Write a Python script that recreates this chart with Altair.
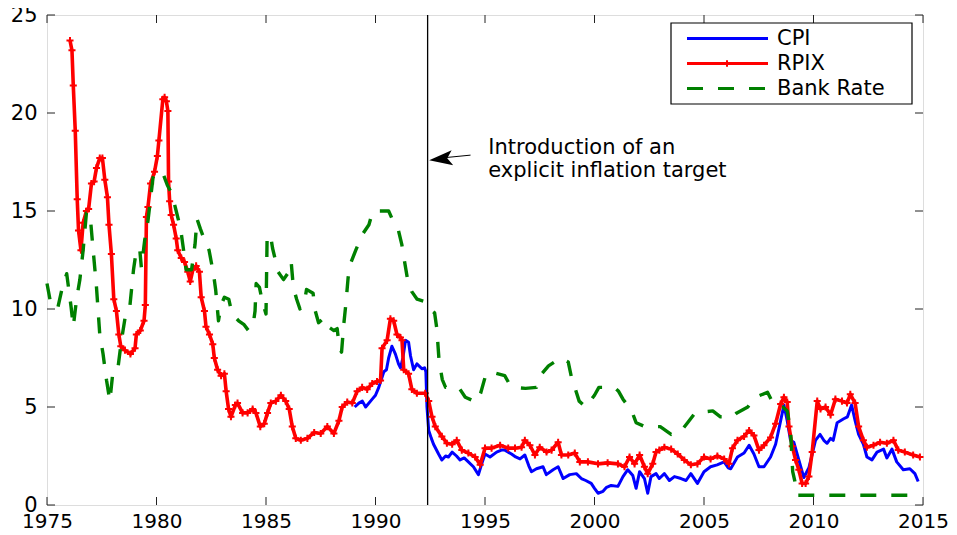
import altair as alt
import pandas as pd

# ---------------- data ----------------
rpix_year = [1976.05, 1976.14, 1976.2, 1976.29, 1976.38, 1976.44, 1976.55, 1976.65, 1976.8, 1976.9,
             1977.03, 1977.15, 1977.26, 1977.41, 1977.53, 1977.64, 1977.76, 1977.83, 1977.94, 1978.05,
             1978.17, 1978.28, 1978.37, 1978.56, 1978.81, 1979.02, 1979.08, 1979.26, 1979.43, 1979.49,
             1979.54, 1979.61, 1979.73, 1979.91, 1980.04, 1980.11, 1980.29, 1980.37, 1980.45, 1980.52,
             1980.55, 1980.6, 1980.67, 1980.78, 1980.9, 1980.97, 1981.13, 1981.28, 1981.43, 1981.54,
             1981.66, 1981.81, 1981.96, 1982.04, 1982.19, 1982.26, 1982.42, 1982.57, 1982.64, 1982.79,
             1982.95, 1983.1, 1983.18, 1983.29, 1983.4, 1983.6, 1983.7, 1983.93, 1984.16, 1984.39,
             1984.54, 1984.74, 1984.92, 1985.07, 1985.22, 1985.45, 1985.68, 1985.9, 1986.06, 1986.2,
             1986.36, 1986.59, 1986.89, 1987.2, 1987.5, 1987.8, 1988.1, 1988.33, 1988.48, 1988.71,
             1988.94, 1989.16, 1989.39, 1989.62, 1989.85, 1990.07, 1990.23, 1990.3, 1990.53, 1990.68,
             1990.83, 1990.98, 1991.14, 1991.21, 1991.29, 1991.51, 1991.66, 1991.89, 1992.27, 1992.43,
             1992.58, 1992.73, 1993.03, 1993.26, 1993.5, 1993.71, 1993.94, 1994.24, 1994.55, 1994.78,
             1995.0, 1995.3, 1995.69, 1996.06, 1996.37, 1996.67, 1996.82, 1997.05, 1997.28, 1997.5,
             1997.81, 1998.04, 1998.34, 1998.49, 1998.8, 1999.1, 1999.33, 1999.7, 2000.16, 2000.6,
             2001.07, 2001.37, 2001.6, 2001.83, 2002.06, 2002.28, 2002.43, 2002.66, 2002.81, 2002.96,
             2003.19, 2003.5, 2003.8, 2004.1, 2004.4, 2004.7, 2005.0, 2005.3, 2005.61, 2005.92,
             2006.14, 2006.3, 2006.53, 2006.83, 2007.06, 2007.28, 2007.51, 2007.74, 2008.04, 2008.27,
             2008.5, 2008.65, 2008.8, 2008.88, 2009.03, 2009.18, 2009.33, 2009.48, 2009.64, 2009.79,
             2009.94, 2010.17, 2010.32, 2010.55, 2010.78, 2011.0, 2011.3, 2011.53, 2011.68, 2011.9,
             2012.06, 2012.28, 2012.44, 2012.74, 2013.04, 2013.35, 2013.65, 2013.87, 2014.17, 2014.55,
             2014.86]
rpix_value = [23.7, 23.2, 21.4, 19.1, 15.6, 14.0, 13.0, 14.4, 15.0, 15.1,
              16.4, 16.5, 17.2, 17.7, 17.7, 16.6, 15.7, 14.3, 12.8, 10.5,
              9.9, 8.7, 8.1, 7.9, 7.7, 8.0, 8.7, 8.9, 9.4, 10.2,
              14.7, 15.2, 16.4, 17.0, 17.8, 18.6, 20.7, 20.8, 20.6, 20.1,
              16.5, 15.5, 14.8, 14.3, 13.6, 13.0, 12.6, 12.4, 11.9, 11.4,
              12.0, 12.2, 11.9, 10.6, 9.9, 9.1, 8.7, 8.2, 7.5, 6.9,
              6.6, 6.7, 5.8, 4.9, 4.5, 5.1, 5.2, 4.7, 4.7, 4.9,
              4.7, 4.0, 4.15, 4.7, 5.2, 5.3, 5.6, 5.3, 4.9, 4.0,
              3.4, 3.3, 3.4, 3.7, 3.65, 4.0, 3.65, 4.3, 5.0, 5.25,
              5.2, 5.8, 6.0, 5.9, 6.2, 6.3, 6.35, 8.0, 8.4, 9.5,
              9.4, 8.7, 8.55, 8.4, 6.9, 6.7, 5.9, 5.7, 5.7, 5.3,
              4.5, 4.0, 3.5, 3.15, 3.1, 3.3, 2.8, 2.65, 2.45, 2.05,
              2.9, 2.9, 3.05, 2.9, 2.9, 2.95, 3.3, 3.05, 2.55, 2.95,
              2.7, 2.8, 3.2, 2.55, 2.55, 2.65, 2.2, 2.2, 2.1, 2.15,
              2.1, 1.95, 2.45, 2.1, 2.55, 1.95, 1.6, 2.1, 2.7, 2.8,
              2.95, 2.85, 2.6, 2.3, 2.05, 2.1, 2.45, 2.35, 2.5, 2.35,
              2.1, 2.9, 3.3, 3.5, 3.8, 3.55, 2.8, 3.05, 3.45, 4.15,
              5.15, 5.5, 5.25, 4.0, 3.0, 2.3, 1.8, 1.1, 1.1, 1.45,
              2.7, 5.3, 4.9, 5.0, 4.6, 5.4, 5.3, 5.2, 5.65, 5.2,
              4.0, 3.3, 2.95, 3.05, 3.2, 3.15, 3.3, 2.8, 2.7, 2.55,
              2.45]

cpi_year = [1989.05, 1989.24, 1989.4, 1989.55, 1989.85, 1990.0, 1990.15, 1990.38, 1990.5, 1990.6,
            1990.75, 1990.91, 1991.05, 1991.14, 1991.25, 1991.37, 1991.51, 1991.6, 1991.74, 1991.89,
            1992.12, 1992.24, 1992.3, 1992.35, 1992.43, 1992.55, 1992.65, 1992.88, 1993.03, 1993.2,
            1993.33, 1993.5, 1993.7, 1993.86, 1994.05, 1994.24, 1994.47, 1994.7, 1994.85, 1995.0,
            1995.23, 1995.53, 1995.75, 1995.91, 1996.21, 1996.4, 1996.6, 1996.82, 1997.0, 1997.12,
            1997.35, 1997.65, 1997.8, 1998.11, 1998.34, 1998.57, 1998.87, 1999.17, 1999.4, 1999.6,
            1999.85, 2000.0, 2000.16, 2000.39, 2000.55, 2000.76, 2001.07, 2001.3, 2001.52, 2001.75,
            2001.9, 2002.06, 2002.28, 2002.43, 2002.58, 2002.81, 2002.96, 2003.19, 2003.42, 2003.65,
            2003.95, 2004.18, 2004.4, 2004.7, 2005.0, 2005.3, 2005.6, 2005.92, 2006.1, 2006.22,
            2006.53, 2006.83, 2007.06, 2007.28, 2007.51, 2007.74, 2008.04, 2008.27, 2008.5, 2008.65,
            2008.8, 2008.95, 2009.1, 2009.33, 2009.56, 2009.79, 2009.94, 2010.09, 2010.3, 2010.47,
            2010.62, 2010.78, 2010.9, 2011.08, 2011.38, 2011.55, 2011.74, 2011.9, 2012.06, 2012.28,
            2012.44, 2012.67, 2012.9, 2013.2, 2013.35, 2013.58, 2013.8, 2014.1, 2014.4, 2014.63,
            2014.78]
cpi_value = [5.0, 5.2, 5.3, 5.0, 5.4, 5.6, 6.0, 6.8, 6.9, 7.5,
             8.1, 7.7, 7.2, 7.0, 7.5, 8.4, 8.3, 7.6, 6.9, 7.2,
             6.95, 7.0, 6.8, 5.0, 3.8, 3.4, 3.1, 2.6, 2.3, 2.5,
             2.45, 2.7, 2.5, 2.3, 2.4, 2.2, 1.95, 1.55, 2.1, 2.6,
             2.45, 2.7, 2.8, 2.8, 2.6, 2.45, 2.35, 2.55, 2.0, 1.7,
             1.85, 1.95, 1.55, 1.8, 1.95, 1.35, 1.55, 1.6, 1.35, 1.25,
             1.1, 0.85, 0.6, 0.7, 0.9, 1.0, 0.95, 1.45, 1.8, 1.5,
             0.85, 1.7, 1.35, 0.6, 1.45, 1.6, 1.35, 1.6, 1.25, 1.45,
             1.35, 1.25, 1.6, 1.1, 1.7, 1.95, 2.05, 2.2, 1.9, 1.85,
             2.45, 2.65, 3.05, 2.6, 1.95, 1.95, 2.45, 3.1, 4.3, 5.1,
             4.3, 3.3, 3.2, 2.3, 1.4, 1.9, 2.6, 3.3, 3.6, 3.3,
             3.15, 3.4, 3.3, 4.2, 4.4, 4.5, 5.1, 4.3, 3.6, 3.1,
             2.45, 2.3, 2.7, 2.85, 2.4, 2.85, 2.2, 1.8, 1.85, 1.6,
             1.2]

bank_year = [1975.0, 1975.2, 1975.5, 1975.7, 1975.9, 1976.1, 1976.2, 1976.35, 1976.5, 1976.65,
             1976.8, 1976.96, 1977.1, 1977.26, 1977.41, 1977.56, 1977.72, 1977.87, 1978.02, 1978.24,
             1978.4, 1978.6, 1978.78, 1978.95, 1979.08, 1979.23, 1979.31, 1979.46, 1979.61, 1979.84,
             1979.96, 1980.3, 1980.5, 1980.7, 1980.9, 1981.1, 1981.25, 1981.35, 1981.6, 1981.76,
             1981.85, 1982.0, 1982.2, 1982.4, 1982.5, 1982.6, 1982.7, 1982.83, 1982.95, 1983.1,
             1983.3, 1983.45, 1983.75, 1984.0, 1984.2, 1984.4, 1984.5, 1984.55, 1984.7, 1984.85,
             1985.0, 1985.05, 1985.2, 1985.3, 1985.45, 1985.55, 1985.8, 1986.05, 1986.15, 1986.25,
             1986.4, 1986.55, 1986.75, 1986.85, 1987.15, 1987.25, 1987.4, 1987.65, 1987.9, 1988.1,
             1988.25, 1988.35, 1988.45, 1988.55, 1988.65, 1988.75, 1988.85, 1989.1, 1989.4, 1989.7,
             1989.85, 1989.9, 1990.6, 1990.8, 1991.05, 1991.2, 1991.3, 1991.45, 1991.65, 1991.9,
             1992.2, 1992.35, 1992.7, 1992.8, 1992.9, 1993.05, 1993.2, 1993.8, 1994.1, 1994.6,
             1994.8, 1995.05, 1995.4, 1995.9, 1996.1, 1996.3, 1996.85, 1997.35, 1997.6, 1997.9,
             1998.45, 1998.8, 1998.95, 1999.1, 1999.3, 1999.6, 2000.0, 2000.2, 2000.9, 2001.1,
             2001.3, 2001.7, 2001.9, 2002.3, 2003.0, 2003.5, 2003.9, 2004.25, 2004.6, 2005.4,
             2005.75, 2006.3, 2006.5, 2007.0, 2007.35, 2007.9, 2008.2, 2008.6, 2008.8, 2008.95,
             2009.05, 2009.15, 2009.25, 2014.9]
bank_value = [11.3, 10.1, 10.1, 11.1, 11.8, 10.1, 9.1, 10.5, 11.5, 13.0,
              14.9, 14.9, 13.1, 11.1, 8.7, 7.7, 6.35, 5.3, 6.9, 7.0,
              8.4, 9.8, 10.1, 12.0, 13.0, 13.1, 12.1, 13.5, 14.5, 16.7,
              17.0, 16.9, 16.3, 15.9, 15.0, 14.1, 12.9, 12.0, 12.0, 13.3,
              14.6, 14.1, 13.5, 13.0, 12.4, 11.8, 11.0, 9.4, 10.2, 10.6,
              10.5, 9.75, 9.4, 9.2, 8.9, 9.1, 9.9, 11.3, 11.1, 10.3,
              9.75, 13.6, 13.8, 13.1, 12.4, 11.9, 11.5, 11.9, 12.4, 11.1,
              10.5, 10.0, 10.3, 11.0, 10.8, 9.9, 9.3, 9.55, 9.05, 8.9,
              9.0, 8.0, 7.8, 9.2, 10.3, 11.6, 12.3, 13.0, 13.8, 14.3,
              14.9, 15.0, 15.0, 14.5, 14.0, 13.3, 12.6, 11.6, 10.9, 10.5,
              10.4, 10.1, 9.8, 9.0, 7.4, 6.4, 6.0, 6.0, 5.5, 5.25,
              5.7, 6.7, 6.75, 6.6, 6.2, 6.0, 5.95, 6.0, 6.7, 7.1,
              7.5, 7.3, 6.5, 6.0, 5.3, 5.0, 5.6, 6.0, 6.0, 5.8,
              5.4, 4.8, 4.2, 4.0, 4.0, 3.6, 3.7, 4.2, 4.7, 4.8,
              4.5, 4.5, 4.7, 5.0, 5.5, 5.75, 5.1, 5.0, 4.8, 3.8,
              1.7, 1.2, 0.5, 0.5]

x_ticks = [1975, 1980, 1985, 1990, 1995, 2000, 2005, 2010, 2015]
y_ticks = [0, 5, 10, 15, 20, 25]
target_year = [1992.38]
annotation_lines = ["Introduction of an", "explicit inflation target"]
legend_labels = ["CPI", "RPIX", "Bank Rate"]

# ---------------- styling ----------------
FONT = "DejaVu Sans"
FS = 21
W, H = 876, 490
X_DOM = [1975, 2015]
Y_DOM = [0, 25]
BLUE, RED, GREEN = "#0000ff", "#ff0000", "#008000"
PLUS = "M-1,0L1,0M0,-1L0,1"
ARROW = "M-1,0L0.8,-0.58L0.4,0L0.8,0.58Z"
TICK_X = 8 / (W / (X_DOM[1] - X_DOM[0]))   # 8px in years
TICK_Y = 8 / (H / (Y_DOM[1] - Y_DOM[0]))   # 8px in value units

xs = alt.Scale(domain=X_DOM, nice=False, zero=False)
ys = alt.Scale(domain=Y_DOM, nice=False, zero=False)
x_axis = alt.Axis(values=x_ticks, format="d", ticks=False, domain=False, grid=False,
                  labelFont=FONT, labelFontSize=20, labelColor="black", labelPadding=6,
                  labelFlush=False, title="")
y_axis = alt.Axis(values=y_ticks, format="d", ticks=False, domain=False, grid=False,
                  labelFont=FONT, labelFontSize=FS, labelColor="black", labelPadding=10,
                  labelFlush=False, title="")


def X(field="year"):
    return alt.X(f"{field}:Q", scale=xs, axis=x_axis)


def Y(field="value"):
    return alt.Y(f"{field}:Q", scale=ys, axis=y_axis)


cpi_df = pd.DataFrame({"year": cpi_year, "value": cpi_value})
rpix_df = pd.DataFrame({"year": rpix_year, "value": rpix_value})
bank_df = pd.DataFrame({"year": bank_year, "value": bank_value})

cpi_line = alt.Chart(cpi_df).mark_line(color=BLUE, strokeWidth=3, strokeJoin="round").encode(
    x=X(), y=Y(), order="year:Q")
rpix_line = alt.Chart(rpix_df).mark_line(color=RED, strokeWidth=3.6, strokeJoin="round").encode(
    x=X(), y=Y(), order="year:Q")
rpix_pts = alt.Chart(rpix_df).mark_point(shape=PLUS, color=RED, size=50, strokeWidth=2,
                                         filled=False, opacity=1).encode(x=X(), y=Y())
bank_line = alt.Chart(bank_df).mark_line(color=GREEN, strokeWidth=3.4, strokeDash=[16, 15],
                                         strokeJoin="round").encode(x=X(), y=Y(), order="year:Q")

target = alt.Chart(pd.DataFrame({"year": target_year})).mark_rule(
    color="black", strokeWidth=1.3).encode(x=X())

# inward ticks on all four sides
xt = pd.DataFrame({"year": x_ticks})
yt = pd.DataFrame({"value": y_ticks})
tick_style = dict(color="#222222", strokeWidth=1)
ticks_bottom = alt.Chart(xt).mark_rule(**tick_style).transform_calculate(
    y0=str(Y_DOM[0]), y1=str(Y_DOM[0] + TICK_Y)).encode(x=X(), y=Y("y0"), y2="y1:Q")
ticks_top = alt.Chart(xt).mark_rule(**tick_style).transform_calculate(
    y0=str(Y_DOM[1]), y1=str(Y_DOM[1] - TICK_Y)).encode(x=X(), y=Y("y0"), y2="y1:Q")
ticks_left = alt.Chart(yt).mark_rule(**tick_style).transform_calculate(
    x0=str(X_DOM[0]), x1=str(X_DOM[0] + TICK_X)).encode(y=Y(), x=X("x0"), x2="x1:Q")
ticks_right = alt.Chart(yt).mark_rule(**tick_style).transform_calculate(
    x0=str(X_DOM[1]), x1=str(X_DOM[1] - TICK_X)).encode(y=Y(), x=X("x0"), x2="x1:Q")

# annotation
ann_df = pd.DataFrame({"year": [1995.15, 1995.15], "value": [17.89, 16.72], "text": annotation_lines})
annotation = alt.Chart(ann_df).mark_text(align="left", baseline="alphabetic", font=FONT,
                                         fontSize=FS, color="black").encode(x=X(), y=Y(), text="text:N")
shaft_df = pd.DataFrame({"year": [1993.24], "value": [17.73], "year2": [1994.34], "value2": [17.85]})
shaft = alt.Chart(shaft_df).mark_rule(color="black", strokeWidth=1).encode(
    x=X(), y=Y(), x2="year2:Q", y2="value2:Q")
head_df = pd.DataFrame({"year": [1993.04], "value": [17.66]})
head = alt.Chart(head_df).mark_point(shape=ARROW, filled=True, color="black", size=676,
                                     angle=354, opacity=1).encode(x=X(), y=Y())

# legend (box + samples + labels), pixel positions inside the plot area
leg_df = pd.DataFrame({"label": ["legend"]})
leg_box = alt.Chart(leg_df).mark_rect(fill="white", stroke="black", strokeWidth=1.2).encode(
    x=alt.value(624), x2=alt.value(865), y=alt.value(8), y2=alt.value(89))
leg_cpi = alt.Chart(leg_df).mark_rule(color=BLUE, strokeWidth=3).encode(
    x=alt.value(640), x2=alt.value(721), y=alt.value(23.5))
leg_rpix = alt.Chart(leg_df).mark_rule(color=RED, strokeWidth=3).encode(
    x=alt.value(640), x2=alt.value(721), y=alt.value(48.5))
leg_rpix_pt = alt.Chart(leg_df).mark_point(shape=PLUS, color=RED, size=42, strokeWidth=2,
                                           filled=False, opacity=1).encode(
    x=alt.value(680), y=alt.value(48.5))
leg_bank = alt.Chart(leg_df).mark_rule(color=GREEN, strokeWidth=3, strokeDash=[16, 15]).encode(
    x=alt.value(640), x2=alt.value(721), y=alt.value(73.5))
leg_text = [
    alt.Chart(pd.DataFrame({"t": [lab]})).mark_text(align="left", baseline="middle", font=FONT,
                                                     fontSize=FS, color="black").encode(
        x=alt.value(730), y=alt.value(24 + 25 * i), text="t:N")
    for i, lab in enumerate(legend_labels)
]

chart = alt.layer(
    cpi_line, rpix_line, rpix_pts, bank_line, target,
    ticks_bottom, ticks_top, ticks_left, ticks_right,
    annotation, shaft, head,
    leg_box, leg_cpi, leg_rpix, leg_rpix_pt, leg_bank, *leg_text,
).properties(
    width=W, height=H,
    autosize=alt.AutoSizeParams(type="none"),
    padding={"left": 39, "top": 7, "right": 26, "bottom": 30},
).configure_view(stroke="black", strokeWidth=1.2).configure(background="white")

chart.save("out.html", embed_options={"renderer": "svg", "actions": False})
